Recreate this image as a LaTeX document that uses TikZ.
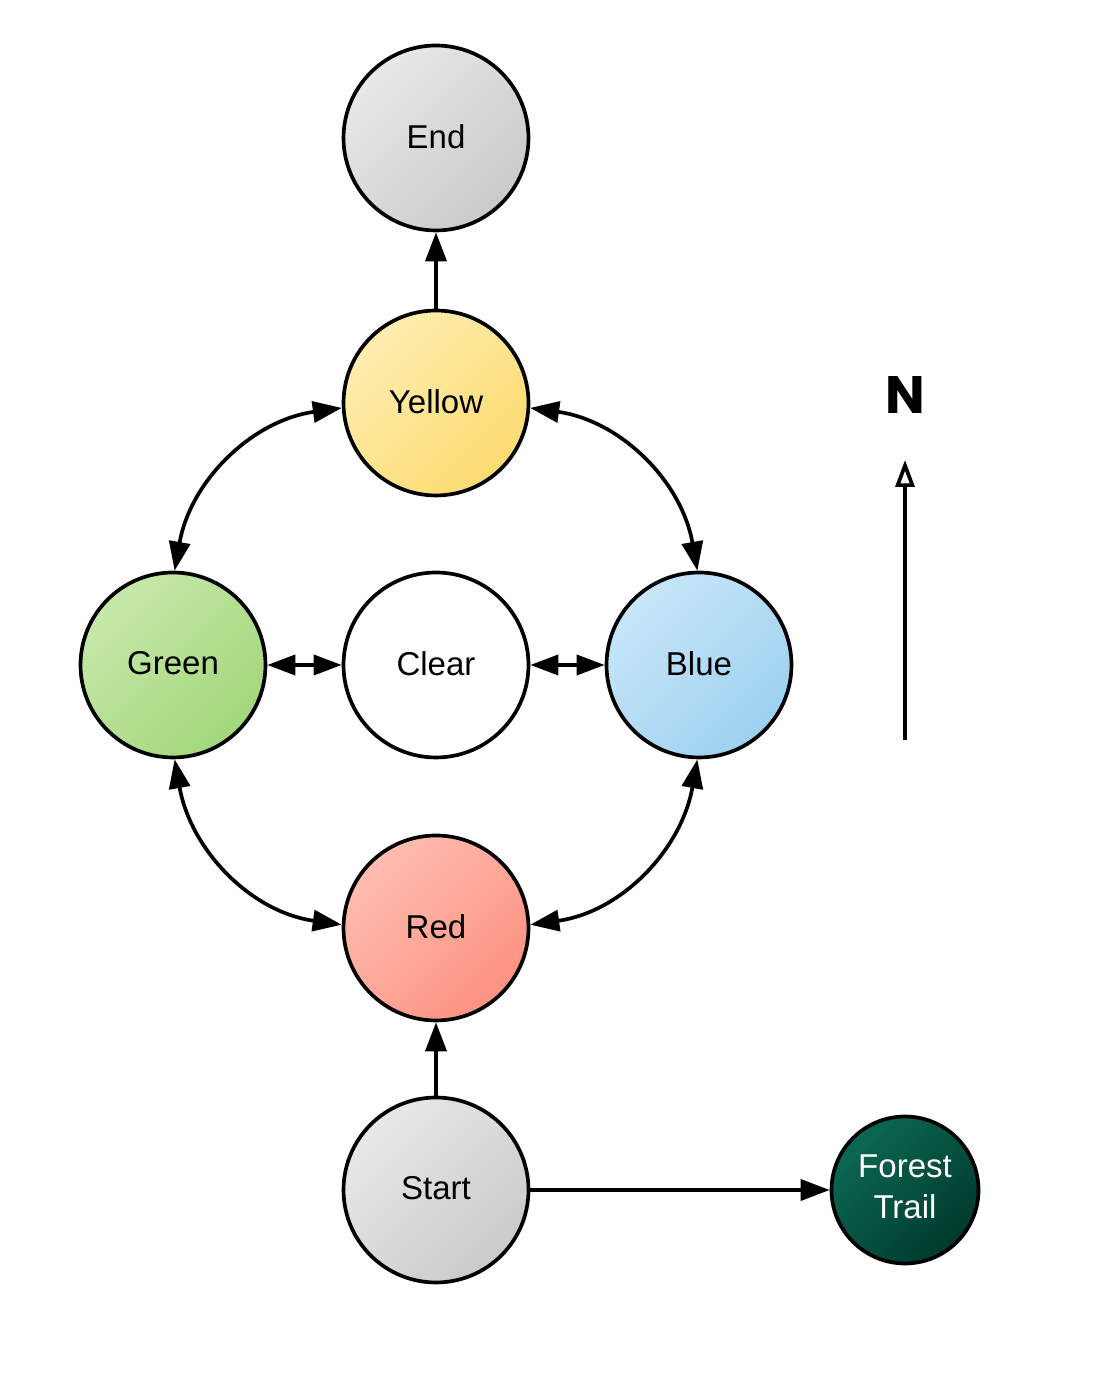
\documentclass[tikz,border=0pt]{standalone}
\usepackage{fontspec}
\setmainfont{Liberation Sans}
\newfontfamily\nfont{Poppins}
\usetikzlibrary{arrows.meta,shadings}
\definecolor{ylA}{HTML}{FFEDB0}\definecolor{ylB}{HTML}{FDDB70}
\definecolor{grA}{HTML}{C6E8AA}\definecolor{grB}{HTML}{A3D77A}
\definecolor{blA}{HTML}{C8E6F8}\definecolor{blB}{HTML}{9DD1F0}
\definecolor{rdA}{HTML}{FFBDB0}\definecolor{rdB}{HTML}{FD9282}
\definecolor{gyA}{HTML}{E8E8E8}\definecolor{gyB}{HTML}{CACACA}
\definecolor{ftA}{HTML}{0B6852}\definecolor{ftB}{HTML}{003A2D}
\tikzset{
  place/.style={circle, draw=black, line width=2.1pt, minimum size=3.7cm, inner sep=0pt,
    font=\fontsize{18.8}{23}\selectfont},
  shadeit/.style 2 args={top color=#1, bottom color=#2, shading angle=45},
  link/.style={line width=2.1pt, -{Triangle[length=0.58cm,width=0.42cm]}},
  dlink/.style={line width=2.1pt, {Triangle[length=0.58cm,width=0.42cm]}-{Triangle[length=0.58cm,width=0.42cm]}},
  slink/.style={line width=2.1pt, {Triangle[length=0.56cm,width=0.4cm]}-{Triangle[length=0.56cm,width=0.4cm]}},
}
\begin{document}
\begin{tikzpicture}[x=0.02cm,y=0.02cm]
\useasboundingbox (0,0) rectangle (1096,1375);
\node[place, shadeit={gyA}{gyB}] (E) at (436,1237) {\raisebox{2pt}{End}};
\node[place, shadeit={ylA}{ylB}] (Y) at (436,972) {\raisebox{2pt}{Yellow}};
\node[place, shadeit={grA}{grB}] (G) at (173,710) {\raisebox{2pt}{Green}};
\node[place, fill=white] (C) at (436,710) {\raisebox{2pt}{Clear}};
\node[place, shadeit={blA}{blB}] (B) at (699,710) {\raisebox{2pt}{Blue}};
\node[place, shadeit={rdA}{rdB}] (R) at (436,447) {\raisebox{2pt}{Red}};
\node[place, shadeit={gyA}{gyB}] (S) at (436,185) {\raisebox{2pt}{Start}};
\node[place, minimum size=2.94cm, shadeit={ftA}{ftB}, text=white] (F) at (905,185)
  {\raisebox{3pt}{\begin{tabular}{@{}c@{}}Forest\\Trail\end{tabular}}};

\draw[link] (Y.north) -- (E.south);
\draw[link] (S.north) -- (R.south);
\draw[link] (S.east) -- (F.west);

\draw[dlink] (Y.183) to[out=188,in=80] (G.89);
\draw[dlink] (Y.357) to[out=-8,in=100] (B.91);
\draw[dlink] (G.271) to[out=-80,in=172] (R.178);
\draw[dlink] (B.269) to[out=-100,in=8] (R.2);

\draw[slink] (G.east) -- (C.west);
\draw[slink] (C.east) -- (B.west);

\node[font=\nfont\bfseries\fontsize{30}{30}\selectfont] (N) at (905,980) {N};
\coordinate (nb) at (905,635);
\coordinate (nt) at (905,915);
\draw[line width=2.1pt, -{Triangle[open,length=0.54cm,width=0.38cm]}] (nb) -- (nt);
\end{tikzpicture}
\end{document}
